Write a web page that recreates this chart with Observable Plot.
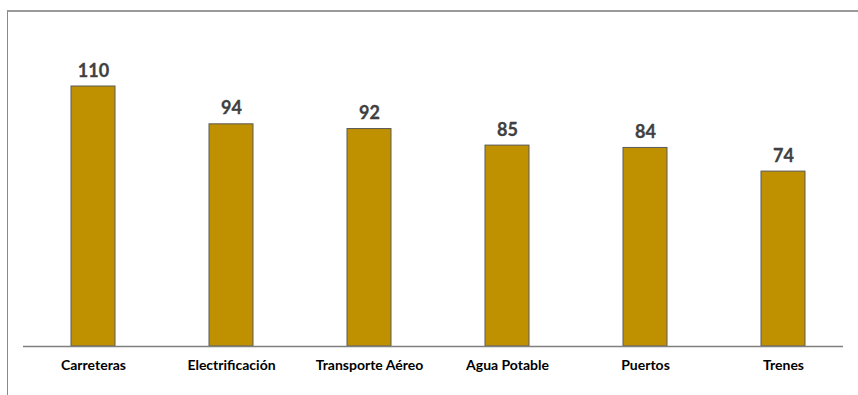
<!DOCTYPE html>
<html><head><meta charset="utf-8">
<script src="https://cdn.jsdelivr.net/npm/d3@7"></script>
<script src="https://cdn.jsdelivr.net/npm/@observablehq/plot@0.6"></script>
<style>
html,body{margin:0;padding:0;background:#fff;overflow:hidden;}
#wrap{position:relative;width:858px;height:395px;}
#frame{position:absolute;left:7px;top:10px;width:1000px;height:600px;border-top:2px solid #9a9a9a;border-left:1px solid #8a8a8a;}
#chart{position:absolute;left:0;top:0;}
</style></head>
<body><div id="wrap"><div id="frame"></div><div id="chart"></div></div>
<script>
const categories = ["Carreteras","Electrificación","Transporte Aéreo","Agua Potable","Puertos","Trenes"];
const values = [110, 94, 92, 85, 84, 74];
const data = categories.map((c,i)=>({cat:c, val:values[i]}));

const chart = Plot.plot({
  width: 858, height: 395,
  marginTop: 86, marginBottom: 49, marginLeft: 23, marginRight: 15,
  style: {fontFamily: "Lato, 'Open Sans', sans-serif", background: "transparent"},
  x: {domain: categories, range: [22.85, 852.65], paddingInner: 0.682, paddingOuter: 0.341, label: null},
  y: {domain: [0, 110], axis: null},
  marks: [
    Plot.barY(data, {x: "cat", y: "val", fill: "#BF9000", stroke: "#5a5a5a", strokeWidth: 1}),
    Plot.ruleY([0], {stroke: "#7f7f7f", strokeWidth: 1.3}),
    Plot.text(data, {x: "cat", y: "val", text: d => String(d.val), dy: -10, lineAnchor: "bottom", fontSize: 18, fontWeight: "bold", fill: "#404040", stroke: "#404040", strokeWidth: 0.3}),
    Plot.axisX({tickSize: 0, tickPadding: 14, fontSize: 14, fontWeight: "bold", color: "#000", label: null})
  ]
});
document.getElementById("chart").appendChild(chart);
</script></body></html>
